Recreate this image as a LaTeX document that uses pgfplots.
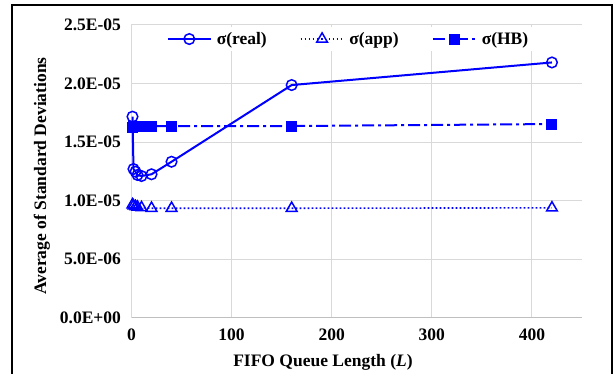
\documentclass[border=0pt]{standalone}
\usepackage{fontspec}
\setmainfont{Liberation Serif}
\usepackage{pgfplots}
\pgfplotsset{compat=1.18}
\definecolor{ser}{RGB}{0,0,255}
\definecolor{gridc}{RGB}{217,217,217}
\definecolor{axc}{RGB}{191,191,191}
\newcommand{\fs}{\fontsize{17.5}{20}\selectfont\bfseries}
\begin{document}
\begin{tikzpicture}[x=1pt,y=1pt]
\useasboundingbox (0,0) rectangle (614,374);
\draw[black,line width=1.6pt] (12,-10) -- (12,369) -- (612,369) -- (612,-10);
\begin{axis}[
  at={(131.5pt,56.3pt)}, anchor=south west,
  scale only axis, width=450.5pt, height=292.7pt,
  xmin=0, xmax=450, ymin=0, ymax=0.000025,
  scaled y ticks=false, scaled x ticks=false,
  xtick={0,100,200,300,400}, xticklabels={0,100,200,300,400},
  ytick={0,0.000005,0.00001,0.000015,0.00002,0.000025},
  yticklabels={0.0E+00,5.0E-06,1.0E-05,1.5E-05,2.0E-05,2.5E-05},
  /pgf/number format/assume math mode=true,
  axis lines=left, axis line style={-},
  x axis line style={draw=axc, line width=1.2pt},
  y axis line style={draw=gridc, line width=1pt},
  major tick length=0pt,
  grid=major, major grid style={draw=gridc, line width=1pt},
  tick label style={font=\fs},
  yticklabel style={xshift=-7pt},
  xticklabel style={yshift=-8pt},
  xlabel={FIFO Queue Length (\textit{L})},
  ylabel={Average of Standard Deviations},
  label style={font=\fs},
  xlabel style={at={(axis description cs:0.425,-0.1513)}, anchor=center},
  ylabel style={at={(axis description cs:-0.1987,0.484)}, anchor=center, rotate=0},
  legend columns=3,
  legend style={at={(axis description cs:0.4806,0.952)}, anchor=center,
    draw=none, fill=white, font=\fs, inner xsep=30pt, inner ysep=4pt,
    nodes={inner sep=1pt},
    /tikz/every odd column/.append style={column sep=4pt},
    /tikz/every even column/.append style={column sep=32pt}},
  legend cell align=left,
  legend image code/.code={\draw[mark repeat=2,mark phase=2] plot coordinates {(0pt,0pt) (21.5pt,0pt) (43pt,0pt)};},
]
\addplot[ser, line width=2pt, mark=o, mark size=5.3pt, mark options={solid, fill=white, line width=1.5pt}]
  coordinates {(1,1.717e-5) (2,1.270e-5) (4,1.247e-5) (6,1.219e-5) (10,1.210e-5) (20,1.225e-5) (40,1.332e-5) (160,1.987e-5) (420,2.180e-5)};
\addlegendentry{σ(real)}
\addplot[ser, line width=1.6pt, dash pattern=on 1.6pt off 2.4pt, mark=triangle, mark size=6.2pt, mark options={solid, fill=white, line width=1.5pt}]
  coordinates {(1,9.65e-6) (2,9.55e-6) (4,9.5e-6) (6,9.45e-6) (10,9.4e-6) (20,9.35e-6) (40,9.35e-6) (160,9.35e-6) (420,9.38e-6)};
\addlegendentry{σ(app)}
\addplot[ser, line width=2pt, dash pattern=on 12pt off 4pt on 3pt off 4pt, mark=square*, mark size=4.5pt, mark options={solid}]
  coordinates {(1,1.622e-5) (2,1.630e-5) (4,1.635e-5) (6,1.637e-5) (10,1.637e-5) (20,1.637e-5) (40,1.637e-5) (160,1.637e-5) (420,1.654e-5)};
\addlegendentry{σ(HB)}
\end{axis}
\end{tikzpicture}
\end{document}
